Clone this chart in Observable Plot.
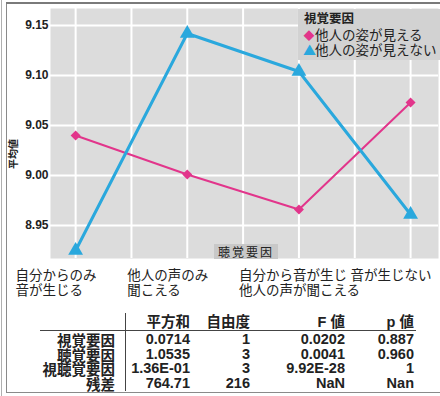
<!DOCTYPE html>
<html>
<head>
<meta charset="utf-8">
<script src="https://cdn.jsdelivr.net/npm/d3@7"></script>
<script src="https://cdn.jsdelivr.net/npm/@observablehq/plot@0.6"></script>
<style>
  html, body { margin: 0; padding: 0; background: #fff; }
  #wrap { position: relative; width: 440px; height: 396px; overflow: hidden; font-family: "Liberation Sans", "Noto Sans CJK JP", sans-serif; color: #222; }
  #chart { position: absolute; left: 0; top: 0; }
  .ln { position: absolute; background: #8a8a8a; }
  #legend { position: absolute; left: 298px; top: 9px; width: 142px; height: 51px; background: #d2d2d2; font-family: "Noto Sans CJK JP", sans-serif; }
  #legend .t { position: absolute; left: 6px; top: 1px; font-size: 12.5px; font-weight: bold; line-height: 16px; }
  #legend .it { position: absolute; left: 5px; font-size: 13.5px; line-height: 15px; white-space: nowrap; }
  #xlab { position: absolute; left: 214px; top: 244px; width: 64px; height: 15px; background: #c8c8c8; font-family: "Noto Sans CJK JP", sans-serif; font-size: 12px; line-height: 15px; text-align: center; letter-spacing: 2px; }
  #ytitle { position: absolute; left: -7px; top: 148px; width: 40px; text-align: center; font-family: "Noto Sans CJK JP", sans-serif; font-size: 10px; line-height: 12px; transform: rotate(-90deg); font-weight: bold; }
  .cell { position: absolute; font-size: 14.5px; font-weight: bold; line-height: 13px; white-space: nowrap; text-align: right; }
</style>
</head>
<body>
<div id="wrap">
  <div id="chart"></div>
</div>
<script>
const categories = ["自分からのみ\n音が生じる", "他人の声のみ\n聞こえる", "自分から音が生じ\n他人の声が聞こえる", "音が生じない"];
const seriesNames = ["他人の姿が見える", "他人の姿が見えない"];
const seenValues = [9.040, 9.001, 8.966, 9.073];
const unseenValues = [8.925, 9.142, 9.104, 8.961];
const yTicks = [8.95, 9.00, 9.05, 9.10, 9.15];
const xTitle = "聴覚要因";
const yTitle = "平均値";
const legendTitle = "視覚要因";
const tableHeaders = ["平方和", "自由度", "F 値", "p 値"];
const tableRowNames = ["視覚要因", "聴覚要因", "視聴覚要因", "残差"];
const sumSq = ["0.0714", "1.0535", "1.36E-01", "764.71"];
const dof = ["1", "3", "3", "216"];
const fValues = ["0.0202", "0.0041", "9.92E-28", "NaN"];
const pValues = ["0.887", "0.960", "1", "Nan"];

const pink = "#e2358b";
const blue = "#2aa8dd";

const seenData = seenValues.map((v, k) => ({i: k + 1, v, s: seriesNames[0]}));
const unseenData = unseenValues.map((v, k) => ({i: k + 1, v, s: seriesNames[1]}));
const xGrid = d3.range(1, categories.length + 0.25, 0.5);

const chart = Plot.plot({
  width: 440,
  height: 300,
  marginLeft: 50,
  marginRight: 2,
  marginTop: 8,
  marginBottom: 42,
  style: {fontFamily: "'Liberation Sans','Noto Sans CJK JP',sans-serif", background: "transparent", color: "#222"},
  x: {type: "linear", domain: [0.775, 4.25]},
  y: {domain: [8.917, 9.167]},
  marks: [
    Plot.frame({fill: "#dcdcdc", stroke: "none"}),
    Plot.gridX(xGrid, {stroke: "#fff", strokeOpacity: 1, strokeWidth: 2}),
    Plot.gridY(yTicks, {stroke: "#fff", strokeOpacity: 1, strokeWidth: 2}),
    Plot.axisY(yTicks, {tickSize: 0, tickPadding: 2, tickFormat: d3.format(".2f"), fontSize: 12, fontWeight: "bold", fill: "#222", label: null}),
    Plot.axisX(d3.range(1, categories.length + 1), {
      tickSize: 0, tickPadding: 11, tickFormat: i => categories[i - 1],
      fontSize: 13.5, dx: -60, textAnchor: "start", fill: "#222", label: null, lineHeight: 1.12,
      fontFamily: "'Noto Sans CJK JP',sans-serif"
    }),
    Plot.line(seenData, {x: "i", y: "v", stroke: pink, strokeWidth: 2}),
    Plot.line(unseenData, {x: "i", y: "v", stroke: blue, strokeWidth: 3}),
    Plot.dot(seenData, {x: "i", y: "v", symbol: "diamond2", r: 4.5, fill: pink}),
    Plot.dot(unseenData, {x: "i", y: "v", symbol: "triangle", r: 5.5, fill: blue})
  ]
});
document.getElementById("chart").appendChild(chart);

const wrap = document.getElementById("wrap");
function add(html) { wrap.insertAdjacentHTML("beforeend", html); }

// outer frame lines
add(`<div class="ln" style="left:1px;top:0;width:1px;height:396px;background:#b0b0b0"></div>`);
add(`<div class="ln" style="left:6px;top:3px;width:1px;height:390px"></div>`);
add(`<div class="ln" style="left:6px;top:2px;width:434px;height:2px;background:#7a7a7a"></div>`);
add(`<div class="ln" style="left:6px;top:392px;width:434px;height:1px"></div>`);

// legend
add(`<div id="legend"><div class="t">${legendTitle}</div>
  <div class="it" style="top:18px"><span style="color:${pink};font-size:11px;display:inline-block;width:12px;text-align:center">◆</span>${seriesNames[0]}</div>
  <div class="it" style="top:33px"><span style="color:${blue};font-size:13px;display:inline-block;width:12px;text-align:center">▲</span>${seriesNames[1]}</div>
</div>`);

add(`<div id="xlab">${xTitle}</div>`);
add(`<div id="ytitle">${yTitle}</div>`);

// table
const colRight = [115, 190, 250, 345, 414];
const headerY = 322;
const rowY = [339, 354, 368.5, 383];
function cell(text, right, cy, extra = "") {
  add(`<div class="cell" style="right:${440 - right}px;top:${cy - 6.5}px;${extra}">${text}</div>`);
}
tableHeaders.forEach((h, c) => cell(h, colRight[c + 1], headerY, "font-family:'Liberation Sans','Noto Sans CJK JP',sans-serif"));
tableRowNames.forEach((name, r) => {
  cell(name, colRight[0], rowY[r], "font-family:'Noto Sans CJK JP',sans-serif");
  [sumSq, dof, fValues, pValues].forEach((col, c) => cell(col[r], colRight[c + 1], rowY[r]));
});
add(`<div class="ln" style="left:40px;top:330px;width:376px;height:1px;background:#444"></div>`);
add(`<div class="ln" style="left:125px;top:313px;width:1px;height:78px;background:#444"></div>`);
</script>
</body>
</html>
